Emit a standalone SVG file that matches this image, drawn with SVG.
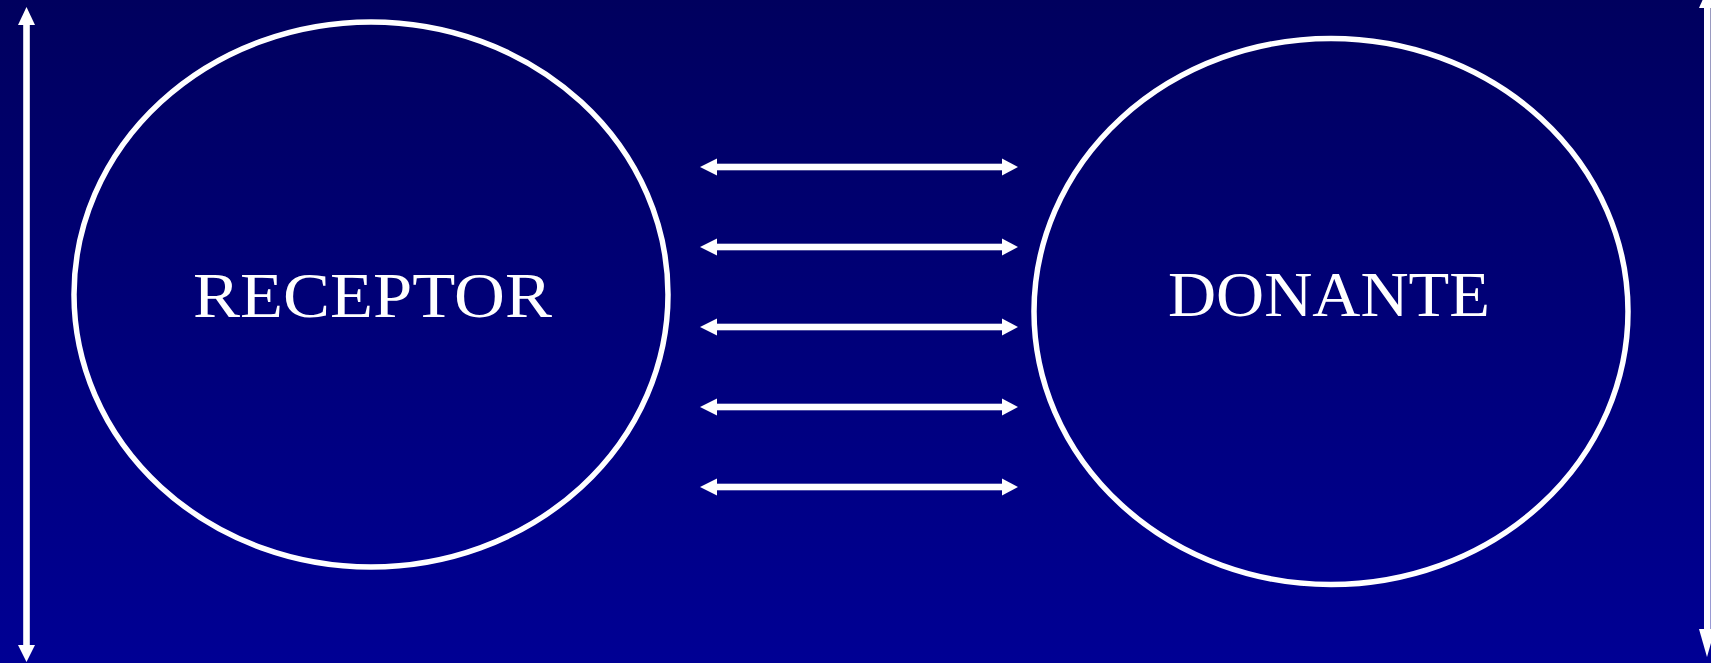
<svg xmlns="http://www.w3.org/2000/svg" xmlns:xlink="http://www.w3.org/1999/xlink" width="1711" height="663" viewBox="0 0 1711 663">
  <defs>
    <linearGradient id="bg" x1="0" y1="0" x2="0" y2="1">
      <stop offset="0" stop-color="#00005E"/>
      <stop offset="1" stop-color="#000094"/>
    </linearGradient>
    <g id="harrow">
      <rect x="715" y="-3.3" width="289" height="6.6" fill="#fff"/>
      <polygon points="700,0 717,-8.5 717,8.5" fill="#fff"/>
      <polygon points="1018,0 1002,-8.5 1002,8.5" fill="#fff"/>
    </g>
  </defs>
  <style>
    .node { fill: none; stroke: #fff; stroke-width: 5.5; }
    .label { font-family: "Liberation Serif", "Times New Roman", serif; font-size: 63px; fill: #fff; text-anchor: middle; }
    .arrow { fill: #fff; }
  </style>
  <rect x="0" y="0" width="1711" height="663" fill="url(#bg)"/>
  <g id="connectors">
    <use xlink:href="#harrow" href="#harrow" y="167"/>
    <use xlink:href="#harrow" href="#harrow" y="247"/>
    <use xlink:href="#harrow" href="#harrow" y="327"/>
    <use xlink:href="#harrow" href="#harrow" y="407"/>
    <use xlink:href="#harrow" href="#harrow" y="487"/>
    <g id="left-vertical">
      <rect class="arrow" x="23.2" y="22" width="6.6" height="626"/>
      <polygon class="arrow" points="26.5,7 18,25 35,25"/>
      <polygon class="arrow" points="26.5,662 18,645 35,645"/>
    </g>
    <g id="right-vertical">
      <rect class="arrow" x="1704" y="0" width="6.6" height="632"/>
      <polygon class="arrow" points="1707,-10 1699,8 1715,8"/>
      <polygon class="arrow" points="1707,657 1699,629 1715,629"/>
    </g>
  </g>
  <g id="receptor">
    <ellipse class="node" cx="371" cy="294.5" rx="297" ry="272.5"/>
    <text class="label" x="372.5" y="317" textLength="359" lengthAdjust="spacingAndGlyphs">RECEPTOR</text>
  </g>
  <g id="donante">
    <ellipse class="node" cx="1331" cy="311.5" rx="297" ry="273"/>
    <text class="label" x="1329" y="316" textLength="322" lengthAdjust="spacingAndGlyphs">DONANTE</text>
  </g>
</svg>
